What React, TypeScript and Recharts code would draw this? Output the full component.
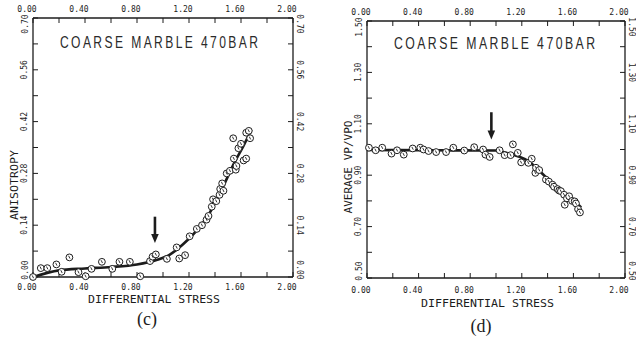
import { ComposedChart, Scatter, Line, XAxis, YAxis, ReferenceLine } from "recharts";

// shared stress axis (both panels)
const stressTicks = [0, 0.2, 0.4, 0.6, 0.8, 1.0, 1.2, 1.4, 1.6, 1.8, 2.0];
const stressTickLabels = ["0.00", "", "0.40", "", "0.80", "", "1.20", "", "1.60", "", "2.00"];

// panel (c): anisotropy
const anisoTicks = [0, 0.07, 0.14, 0.21, 0.28, 0.35, 0.42, 0.49, 0.56, 0.63, 0.7];
const anisoTickLabels = ["0.00", "", "0.14", "", "0.28", "", "0.42", "", "0.56", "", "0.70"];

const anisoStress = [
  0.0, 0.06, 0.11, 0.18, 0.22, 0.28, 0.35, 0.405, 0.45, 0.53, 0.61, 0.665, 0.745, 0.825, 0.9, 0.92,
  0.945, 1.03, 1.105, 1.125, 1.17, 1.205, 1.26, 1.3, 1.335, 1.35, 1.375, 1.385, 1.41, 1.435, 1.44,
  1.455, 1.465, 1.49, 1.515, 1.54, 1.545, 1.56, 1.565, 1.58, 1.6, 1.62, 1.64, 1.64, 1.66, 1.67,
];
const anisoValues = [
  0.0, 0.024, 0.024, 0.034, 0.014, 0.053, 0.013, 0.002, 0.022, 0.041, 0.022, 0.041, 0.041, 0.002,
  0.043, 0.055, 0.061, 0.049, 0.08, 0.05, 0.059, 0.11, 0.13, 0.14, 0.155, 0.165, 0.19, 0.21, 0.205,
  0.222, 0.238, 0.253, 0.233, 0.28, 0.287, 0.375, 0.32, 0.29, 0.3, 0.348, 0.36, 0.315, 0.32, 0.39,
  0.395, 0.375,
];
const anisoFitStress = [0, 0.2, 0.4, 0.6, 0.8, 0.95, 1.05, 1.15, 1.25, 1.35, 1.45, 1.55, 1.62, 1.68];
const anisoFitValues = [0.0, 0.018, 0.023, 0.027, 0.034, 0.046, 0.06, 0.087, 0.122, 0.168, 0.235, 0.31, 0.355, 0.398];
const anisoArrow = { x: 0.938, top: 0.163, tip: 0.092 };

// panel (d): average vp/vp0
const vpTicks = [0.5, 0.6, 0.7, 0.8, 0.9, 1.0, 1.1, 1.2, 1.3, 1.4, 1.5];
const vpTickLabels = ["0.50", "", "0.70", "", "0.90", "", "1.10", "", "1.30", "", "1.50"];

const vpStress = [
  0.015, 0.067, 0.118, 0.19, 0.233, 0.285, 0.354, 0.413, 0.438, 0.477, 0.536, 0.613, 0.669, 0.754,
  0.831, 0.9, 0.918, 0.951, 1.028, 1.067, 1.113, 1.131, 1.169, 1.195, 1.251, 1.277, 1.305, 1.31,
  1.335, 1.387, 1.41, 1.438, 1.45, 1.477, 1.49, 1.503, 1.528, 1.533, 1.55, 1.567, 1.59, 1.61, 1.62,
  1.636, 1.651,
];
const vpValues = [
  1.007, 0.997, 1.007, 0.984, 0.997, 0.98, 1.004, 1.007, 1.0, 0.994, 0.99, 0.99, 1.007, 0.996,
  1.009, 1.0, 0.98, 0.971, 0.997, 0.978, 0.978, 1.02, 0.987, 0.95, 0.948, 0.964, 0.909, 0.929,
  0.92, 0.883, 0.875, 0.863, 0.855, 0.846, 0.84, 0.838, 0.824, 0.785, 0.81, 0.818, 0.8, 0.798,
  0.79, 0.768, 0.755,
];
const vpFitStress = [0, 0.5, 1.0, 1.07, 1.17, 1.25, 1.33, 1.4, 1.48, 1.55, 1.63, 1.66];
const vpFitValues = [0.998, 0.997, 0.996, 0.988, 0.974, 0.955, 0.92, 0.885, 0.843, 0.818, 0.789, 0.775];
const vpArrow = { x: 0.964, top: 1.145, tip: 1.039 };

const toRows = (xs: number[], ys: number[]) => xs.map((x, i) => ({ x, y: ys[i] }));

const INK = "#1c1c1c";
const MONO = "'DejaVu Sans Mono', 'Liberation Mono', monospace";

type Side = "top" | "bottom" | "left" | "right";

// tick labels in the plotter style; x labels sit just left of their tick,
// y labels run along the axis and the end ones are pulled inside the frame
function axisTick(labels: string[], side: Side, shift: number) {
  return (p: any) => {
    const text = labels[p.index] ?? "";
    if (!text) return <g />;
    const last = p.index === labels.length - 1;
    let x = p.x;
    let y = p.y;
    let rot = 0;
    if (side === "bottom" || side === "top") {
      y += shift;
      x -= 6;
    } else {
      x += shift;
      rot = side === "left" ? -90 : 90;
      if (p.index === 0) y -= 7;
      if (last) y += 6;
    }
    return (
      <text
        x={x}
        y={y}
        textAnchor="middle"
        dominantBaseline="central"
        fontFamily={MONO}
        fontSize={8}
        fill={INK}
        transform={rot ? `rotate(${rot} ${x} ${y})` : undefined}
      >
        {text}
      </text>
    );
  };
}

function Arrow(props: any) {
  const { x1, y1, x2, y2 } = props;
  return (
    <g>
      <line x1={x1} y1={y1} x2={x2} y2={y2 - 7} stroke={INK} strokeWidth={2.6} />
      <polygon points={`${x2 - 3.8},${y2 - 9} ${x2 + 3.8},${y2 - 9} ${x2},${y2}`} fill={INK} />
    </g>
  );
}

function Marker(props: any) {
  const { cx, cy } = props;
  return (
    <g>
      <circle cx={cx} cy={cy} r={3.4} fill="#fff" stroke={INK} strokeWidth={1} />
      <line x1={cx - 0.8} y1={cy - 1.6} x2={cx + 0.6} y2={cy + 1.2} stroke={INK} strokeWidth={0.9} />
    </g>
  );
}

type PanelProps = {
  points: { x: number; y: number }[];
  fit: { x: number; y: number }[];
  yDomain: [number, number];
  yTicks: number[];
  yLabels: string[];
  arrow: { x: number; top: number; tip: number };
  top: number;
  bottom: number;
  left: number;
  right: number;
  bottomShift: number;
};

const axisLine = { stroke: INK, strokeWidth: 1.3 };
const tickLine = { stroke: INK, strokeWidth: 1 };

function Panel({ points, fit, yDomain, yTicks, yLabels, arrow, top, bottom, left, right, bottomShift }: PanelProps) {
  return (
    <ComposedChart width={318} height={300} margin={{ top: 0, right: 0, bottom: 0, left: 0 }}>
      <XAxis
        xAxisId="b"
        dataKey="x"
        type="number"
        orientation="bottom"
        domain={[0, 2]}
        ticks={stressTicks}
        interval={0}
        height={bottom}
        tickSize={-5}
        tickMargin={0}
        axisLine={axisLine}
        tickLine={tickLine}
        tick={axisTick(stressTickLabels, "bottom", bottomShift)}
      />
      <XAxis
        xAxisId="t"
        dataKey="x"
        type="number"
        orientation="top"
        domain={[0, 2]}
        ticks={stressTicks}
        interval={0}
        height={top}
        tickSize={-5}
        tickMargin={0}
        axisLine={axisLine}
        tickLine={tickLine}
        tick={axisTick(stressTickLabels, "top", -14)}
      />
      <YAxis
        yAxisId="l"
        type="number"
        orientation="left"
        domain={yDomain}
        ticks={yTicks}
        interval={0}
        width={left}
        tickSize={-5}
        tickMargin={0}
        axisLine={axisLine}
        tickLine={tickLine}
        tick={axisTick(yLabels, "left", -13)}
      />
      <YAxis
        yAxisId="r"
        type="number"
        orientation="right"
        domain={yDomain}
        ticks={yTicks}
        interval={0}
        width={right}
        tickSize={-5}
        tickMargin={0}
        axisLine={axisLine}
        tickLine={tickLine}
        tick={axisTick(yLabels, "right", 11)}
      />
      <Scatter xAxisId="b" yAxisId="l" data={points} dataKey="y" shape={Marker} isAnimationActive={false} />
      {/* the fitted curve is tied to the top/right pair so the full frame is drawn */}
      <Line
        xAxisId="t"
        yAxisId="r"
        data={fit}
        dataKey="y"
        type="monotone"
        stroke={INK}
        strokeWidth={2.6}
        dot={false}
        activeDot={false}
        isAnimationActive={false}
      />
      <ReferenceLine
        xAxisId="b"
        yAxisId="l"
        segment={[
          { x: arrow.x, y: arrow.top },
          { x: arrow.x, y: arrow.tip },
        ]}
        shape={Arrow}
      />
    </ComposedChart>
  );
}

// narrow plotter-style lettering: wide spacing, then squeezed horizontally
function Title({ x, y, width }: { x: number; y: number; width: number }) {
  const natural = 262;
  return (
    <text
      transform={`translate(${x} ${y}) scale(${width / natural} 1)`}
      textLength={natural}
      lengthAdjust="spacing"
      fontFamily="'Liberation Sans', Arial, sans-serif"
      fontSize={16}
      fill="#2a2a2a"
    >
      COARSE MARBLE 470BAR
    </text>
  );
}

export default function App() {
  const axisTitle = { fontFamily: MONO, fontSize: 10, fill: INK };
  const serif = { fontFamily: "'Liberation Serif', 'Times New Roman', serif", fontSize: 18, fill: INK };
  return (
    <div style={{ position: "absolute", left: 0, top: 0, width: 636, height: 341, background: "#fff", overflow: "hidden" }}>
      <div style={{ position: "absolute", left: 0, top: 0 }}>
        <Panel
          points={toRows(anisoStress, anisoValues)}
          fit={toRows(anisoFitStress, anisoFitValues)}
          yDomain={[0, 0.7]}
          yTicks={anisoTicks}
          yLabels={anisoTickLabels}
          arrow={anisoArrow}
          top={18}
          bottom={23}
          left={33}
          right={25}
          bottomShift={15}
        />
      </div>
      <div style={{ position: "absolute", left: 318, top: 0 }}>
        <Panel
          points={toRows(vpStress, vpValues)}
          fit={toRows(vpFitStress, vpFitValues)}
          yDomain={[0.5, 1.5]}
          yTicks={vpTicks}
          yLabels={vpTickLabels}
          arrow={vpArrow}
          top={21}
          bottom={22}
          left={49}
          right={11}
          bottomShift={17}
        />
      </div>
      <svg width={636} height={341} style={{ position: "absolute", left: 0, top: 0, pointerEvents: "none" }}>
        <Title x={60} y={48} width={198} />
        <Title x={394} y={49} width={201} />
        <text x={88} y={303} textLength={132} lengthAdjust="spacingAndGlyphs" {...axisTitle}>
          DIFFERENTIAL STRESS
        </text>
        <text x={421} y={307} textLength={133} lengthAdjust="spacingAndGlyphs" {...axisTitle}>
          DIFFERENTIAL STRESS
        </text>
        <text
          x={18}
          y={185}
          textAnchor="middle"
          textLength={70}
          lengthAdjust="spacingAndGlyphs"
          transform="rotate(-90 18 185)"
          {...axisTitle}
        >
          ANISOTROPY
        </text>
        <text
          x={352}
          y={167}
          textAnchor="middle"
          textLength={93}
          lengthAdjust="spacingAndGlyphs"
          transform="rotate(-90 352 167)"
          {...axisTitle}
        >
          AVERAGE VP/VPO
        </text>
        <text x={147} y={325} textAnchor="middle" {...serif}>
          (c)
        </text>
        <text x={481} y={332} textAnchor="middle" {...serif}>
          (d)
        </text>
      </svg>
    </div>
  );
}
